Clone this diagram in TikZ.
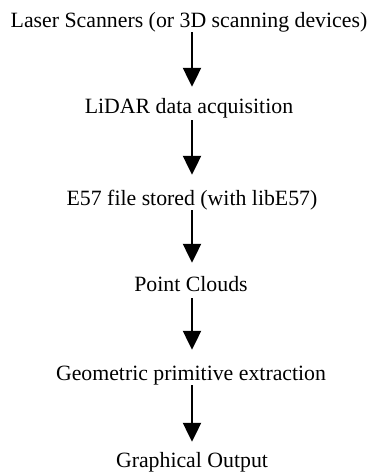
\documentclass[tikz,border=0pt]{standalone}
\usepackage{fontspec}
\setmainfont{Liberation Serif}
\usetikzlibrary{arrows.meta}
\begin{document}
\begin{tikzpicture}[x=1pt,y=1pt,
  stage/.style={anchor=base,inner sep=0pt,text height=15pt,text depth=5pt,
    font=\fontsize{21.8}{25}\selectfont},
  flow/.style={line width=2.2pt,-{Triangle[width=18pt,length=19pt]}}]
\useasboundingbox (0,0) rectangle (374,-474);
% process stages, top to bottom
\node[stage] (t1) at (189,-27)  {Laser Scanners (or 3D scanning devices)};
\node[stage] (t2) at (189,-113) {LiDAR data acquisition};
\node[stage] (t3) at (192,-205) {E57 file stored (with libE57)};
\node[stage] (t4) at (191,-291) {Point Clouds};
\node[stage] (t5) at (191,-380) {Geometric primitive extraction};
\node[stage] (t6) at (192,-467) {Graphical Output};
% arrows between consecutive stages, all on one vertical line
\coordinate (ax) at (192,0);
\draw[flow] ([yshift=0pt]t1.south -| ax)  -- ([yshift=11pt]t2.north -| ax);
\draw[flow] ([yshift=-2pt]t2.south -| ax) -- ([yshift=15pt]t3.north -| ax);
\draw[flow] ([yshift=0pt]t3.south -| ax)  -- ([yshift=13pt]t4.north -| ax);
\draw[flow] ([yshift=-2pt]t4.south -| ax) -- ([yshift=15pt]t5.north -| ax);
\draw[flow] ([yshift=0pt]t5.south -| ax)  -- ([yshift=10pt]t6.north -| ax);
\end{tikzpicture}
\end{document}
